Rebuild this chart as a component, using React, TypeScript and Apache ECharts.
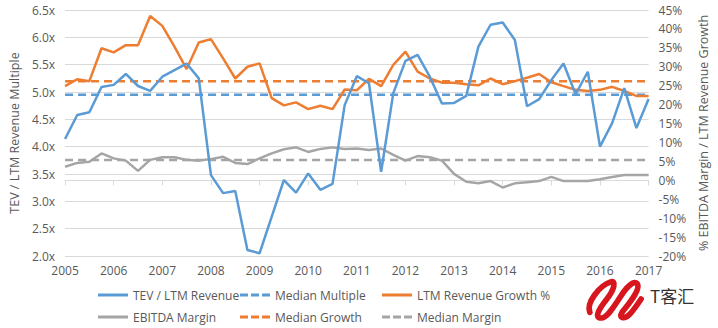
import React, { useEffect, useRef } from "react";
import * as echarts from "echarts";

const quarters = [
  2005, 2005.25, 2005.5, 2005.75,
  2006, 2006.25, 2006.5, 2006.75,
  2007, 2007.25, 2007.5, 2007.75,
  2008, 2008.25, 2008.5, 2008.75,
  2009, 2009.25, 2009.5, 2009.75,
  2010, 2010.25, 2010.5, 2010.75,
  2011, 2011.25, 2011.5, 2011.75,
  2012, 2012.25, 2012.5, 2012.75,
  2013, 2013.25, 2013.5, 2013.75,
  2014, 2014.25, 2014.5, 2014.75,
  2015, 2015.25, 2015.5, 2015.75,
  2016, 2016.25, 2016.5, 2016.75,
  2017,
];

const tevRevenue = [
  4.14, 4.58, 4.63, 5.09,
  5.13, 5.33, 5.11, 5.02,
  5.28, 5.4, 5.52, 5.25,
  3.48, 3.15, 3.19, 2.11,
  2.05, 2.72, 3.39, 3.16,
  3.51, 3.21, 3.32, 4.76,
  5.29, 5.16, 3.54, 4.98,
  5.57, 5.68, 5.28, 4.79,
  4.8, 4.93, 5.83, 6.23,
  6.27, 5.95, 4.74, 4.87,
  5.22, 5.52, 4.96, 5.37,
  4.0, 4.43, 5.07, 4.34,
  4.87,
];

const revenueGrowth = [
  24.9, 26.7, 26.2, 34.9,
  33.8, 35.7, 35.7, 43.4,
  40.8, 35.3, 29.4, 36.4,
  37.3, 32.2, 26.9, 30.0,
  30.9, 21.7, 19.8, 20.6,
  18.8, 19.7, 18.8, 24.0,
  23.8, 26.8, 24.9, 30.5,
  34.0, 28.7, 26.9, 25.8,
  25.8, 25.4, 25.1, 26.9,
  25.4, 26.2, 27.1, 28.1,
  25.9, 24.9, 23.9, 23.6,
  23.9, 24.7, 23.6, 22.3,
  22.3,
];

const ebitdaMargin = [
  3.6, 4.6, 4.9, 7.1,
  5.8, 5.2, 2.5, 5.4,
  6.1, 6.1, 5.4, 5.2,
  5.6, 6.2, 4.6, 4.3,
  5.8, 7.1, 8.2, 8.7,
  7.5, 8.3, 8.7, 8.3,
  8.4, 8.0, 8.4, 6.7,
  5.2, 6.4, 6.1, 5.2,
  1.7, -0.4, -0.8, -0.2,
  -1.9, -0.8, -0.5, -0.2,
  0.9, -0.2, -0.2, -0.2,
  0.3, 0.9, 1.4, 1.4,
  1.4,
];

const medianMultiple = 4.95;
const medianGrowth = 26.2;
const medianMargin = 5.35;
const xRange = [2005, 2017];

const seriesNames = [
  "TEV / LTM Revenue",
  "Median Multiple",
  "LTM Revenue Growth %",
  "EBITDA Margin",
  "Median Growth",
  "Median Margin",
];

const BLUE = "#5B9BD5";
const ORANGE = "#ED7D31";
const GRAY = "#A5A5A5";
const TEXT = "#595959";
const FONT = "'Open Sans', sans-serif";

const SOLID_ICON = "path://M0,0h30v3h-30z";
const DASH_ICON = "path://M0,0h8v3h-8z M11,0h8v3h-8z M22,0h8v3h-8z";

const logoPath =
  "M4 34 C 0 24, 14 6, 26 2 C 32 0, 30 10, 22 20 C 14 30, 8 40, 16 40 C 22 40, 28 30, 36 18 C 42 8, 50 0, 54 4 C 58 10, 44 26, 38 34 C 34 40, 40 42, 46 36 C 50 32, 54 26, 58 20";

export default function App() {
  const ref = useRef<HTMLDivElement>(null);

  useEffect(() => {
    if (!ref.current) return;
    echarts.graphic.registerShape(
      "logo",
      echarts.graphic.extendPath(logoPath, {})
    );
    const chart = echarts.init(ref.current, null, { renderer: "svg" });

    const pairs = (ys: number[]) => quarters.map((q, i) => [q, ys[i]]);
    const flat = (v: number) => xRange.map((x) => [x, v]);

    const legendPos = [
      { left: 98, top: 289, icon: SOLID_ICON },
      { left: 240, top: 289, icon: DASH_ICON },
      { left: 382, top: 289, icon: SOLID_ICON },
      { left: 98, top: 311, icon: SOLID_ICON },
      { left: 240, top: 311, icon: DASH_ICON },
      { left: 382, top: 311, icon: DASH_ICON },
    ];

    const option: any = {
      animation: false,
      backgroundColor: "#ffffff",
      grid: { left: 55, right: 60, top: 10, bottom: 72, containLabel: false },
      legend: seriesNames.map((n, i) => ({
        data: [{ name: n, icon: legendPos[i].icon }],
        left: legendPos[i].left,
        top: legendPos[i].top,
        itemWidth: 30,
        itemHeight: 3,
        itemGap: 4,
        padding: 0,
        textStyle: { color: TEXT, fontSize: 12, fontFamily: FONT },
      })),
      xAxis: {
        type: "value",
        min: 2005,
        max: 2017,
        interval: 1,
        axisLine: { lineStyle: { color: "#D9D9D9" } },
        axisTick: { show: true, length: 5, lineStyle: { color: "#D9D9D9" } },
        splitLine: { show: false },
        axisLabel: {
          color: TEXT,
          fontSize: 12,
          fontFamily: FONT,
          margin: 8,
          formatter: (v: number) => String(v),
        },
      },
      yAxis: [
        {
          type: "value",
          min: 2,
          max: 6.5,
          interval: 0.5,
          name: "TEV / LTM Revenue Multiple",
          nameLocation: "middle",
          nameGap: 41,
          nameTextStyle: { color: TEXT, fontSize: 12.5, fontFamily: FONT },
          axisLine: { show: false },
          axisTick: { show: false },
          splitLine: { lineStyle: { color: "#D9D9D9" } },
          axisLabel: {
            color: TEXT,
            fontSize: 12,
            fontFamily: FONT,
            margin: 10,
            formatter: (v: number) => v.toFixed(1) + "x",
          },
        },
        {
          type: "value",
          min: -20,
          max: 45,
          interval: 5,
          position: "right",
          name: "% EBITDA Margin / LTM Revenue Growth",
          nameLocation: "middle",
          nameGap: 48,
          nameRotate: 90,
          nameTextStyle: { color: TEXT, fontSize: 12.5, fontFamily: FONT },
          axisLine: { show: false },
          axisTick: { show: false },
          splitLine: { show: false },
          axisLabel: {
            color: TEXT,
            fontSize: 12,
            fontFamily: FONT,
            margin: 10,
            formatter: (v: number) => v + "%",
          },
        },
      ],
      series: [
        {
          name: seriesNames[0],
          type: "line",
          yAxisIndex: 0,
          data: pairs(tevRevenue),
          symbol: "none",
          lineStyle: { color: BLUE, width: 2.5 },
          itemStyle: { color: BLUE },
          z: 5,
        },
        {
          name: seriesNames[1],
          type: "line",
          yAxisIndex: 0,
          data: flat(medianMultiple),
          symbol: "none",
          lineStyle: { color: BLUE, width: 2.5, type: [8, 5] },
          itemStyle: { color: BLUE },
          z: 3,
        },
        {
          name: seriesNames[2],
          type: "line",
          yAxisIndex: 1,
          data: pairs(revenueGrowth),
          symbol: "none",
          lineStyle: { color: ORANGE, width: 2.5 },
          itemStyle: { color: ORANGE },
          z: 4,
        },
        {
          name: seriesNames[3],
          type: "line",
          yAxisIndex: 1,
          data: pairs(ebitdaMargin),
          symbol: "none",
          lineStyle: { color: GRAY, width: 2.5 },
          itemStyle: { color: GRAY },
          z: 2,
        },
        {
          name: seriesNames[4],
          type: "line",
          yAxisIndex: 1,
          data: flat(medianGrowth),
          symbol: "none",
          lineStyle: { color: ORANGE, width: 2.5, type: [8, 5] },
          itemStyle: { color: ORANGE },
          z: 3,
        },
        {
          name: seriesNames[5],
          type: "line",
          yAxisIndex: 1,
          data: flat(medianMargin),
          symbol: "none",
          lineStyle: { color: GRAY, width: 2.5, type: [8, 5] },
          itemStyle: { color: GRAY },
          z: 1,
        },
      ],
      graphic: [
        {
          type: "logo",
          x: 586,
          y: 280,
          scaleX: 0.95,
          scaleY: 0.95,
          z: 100,
          style: {
            fill: null,
            stroke: "#D7161D",
            lineWidth: 6,
            lineCap: "round",
          },
        },
        {
          type: "text",
          x: 650,
          y: 287,
          z: 100,
          style: {
            text: "T客汇",
            fill: "#333333",
            fontSize: 17,
            fontFamily: "'Noto Sans CJK SC', sans-serif",
          },
        },
      ],
    };

    chart.setOption(option);
    return () => chart.dispose();
  }, []);

  return (
    <div
      ref={ref}
      style={{ position: "absolute", left: 0, top: 0, width: 718, height: 328 }}
    />
  );
}
